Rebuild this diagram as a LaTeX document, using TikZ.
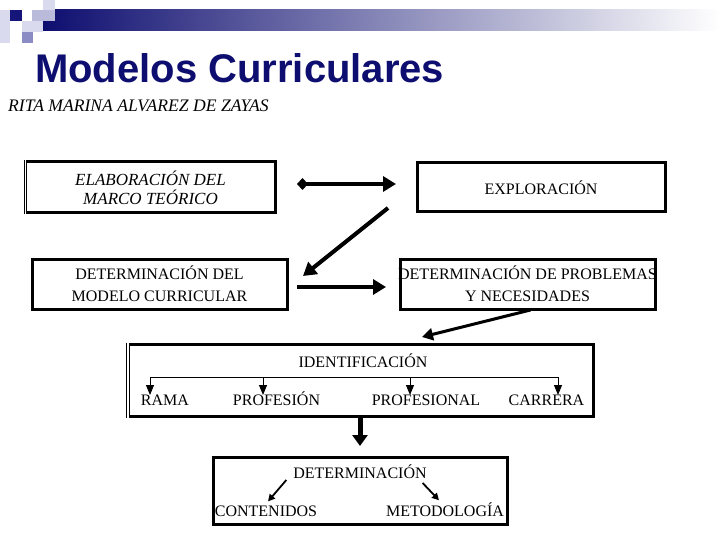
\documentclass[tikz,border=0pt]{standalone}
\usepackage{fontspec}
\setmainfont{Liberation Serif}
\newfontfamily\titlefont{Liberation Sans}
\usetikzlibrary{arrows.meta,calc}
\definecolor{navy}{RGB}{14,14,112}
\definecolor{sqdark}{RGB}{22,22,122}
\definecolor{sqlight}{RGB}{218,218,238}
\definecolor{sqmid}{RGB}{186,186,218}
\definecolor{sqmed}{RGB}{140,140,196}
\begin{document}
\begin{tikzpicture}[x=1pt,y=-1pt,
  frame/.style={draw,line width=3pt,inner sep=0pt,outer sep=0pt,align=center,
    font=\fontsize{16}{22}\selectfont},
  openframe/.style={inner sep=0pt,outer sep=0pt,align=center,
    font=\fontsize{16}{22}\selectfont},
  plain/.style={inner sep=0pt,outer sep=0pt,font=\fontsize{16}{20}\selectfont},
  bigarrow/.style={line width=4pt,-{Triangle[length=13pt,width=15pt]}},
  midarrow/.style={line width=3pt,-{Triangle[length=11pt,width=12pt]}},
  treearrow/.style={line width=1pt,-{Triangle[length=10pt,width=8pt]}},
  smallarrow/.style={line width=1.8pt,-{Triangle[length=7pt,width=7pt]}}
]
\useasboundingbox (0,0) rectangle (720,540);
\fill[white] (0,0) rectangle (720,540);

% header decoration
\shade[left color=navy,right color=white] (43,10) rectangle (720,31);
\fill[sqlight] (0,10) rectangle (10,43);
\fill[sqdark] (10,10) rectangle (22,21);
\fill[sqlight] (43,0) rectangle (55,10);
\fill[sqmid] (32,10) rectangle (55,21);
\fill[sqlight] (22,21) rectangle (43,32);
\fill[sqmed] (22,32) rectangle (33,43);

% title and author
\node[anchor=base west,inner sep=0pt,text=navy,font=\titlefont\bfseries\fontsize{40}{40}\selectfont]
  (title) at (35,83) {Modelos Curriculares};
\node[anchor=base west,inner sep=0pt,font=\itshape\fontsize{17.6}{18}\selectfont]
  (author) at (8,112) {RITA MARINA ALVAREZ DE ZAYAS};

% boxes
\node[openframe,minimum width=249pt,minimum height=51pt,
  font=\itshape\fontsize{17}{19}\selectfont]
  (b1) at (150.5,187.5) {ELABORACIÓN DEL\\MARCO TEÓRICO};
\draw[line width=3pt] (b1.north west) -- (b1.north east) -- (b1.south east) -- (b1.south west);
\draw[line width=1pt] ($(b1.north west)+(-2,-1.5)$) -- ($(b1.south west)+(-2,1.5)$);
\draw[line width=1pt] ($(b1.north west)+(0.5,0)$) -- ($(b1.south west)+(0.5,0)$);

\node[frame,minimum width=248pt,minimum height=49pt] (b2) at (541,187.5) {EXPLORACIÓN};

\node[frame,minimum width=255pt,minimum height=50pt] (b3) at (159.5,284)
  {DETERMINACIÓN DEL\\MODELO CURRICULAR};

\node[frame,minimum width=255pt,minimum height=50pt] (b4) at (527.5,284)
  {\makebox[0pt][c]{DETERMINACIÓN DE PROBLEMAS}\\\makebox[0pt][c]{Y NECESIDADES}};

\node[openframe,minimum width=464pt,minimum height=72pt] (b5) at (361,380) {};
\draw[line width=3pt] (b5.north west) -- (b5.north east) -- (b5.south east) -- (b5.south west);
\draw[line width=1pt] ($(b5.north west)+(-2.5,-1.5)$) -- ($(b5.south west)+(-2.5,1.5)$);
\draw[line width=1pt] ($(b5.north west)+(0.5,0)$) -- ($(b5.south west)+(0.5,0)$);

\node[frame,minimum width=294pt,minimum height=67pt] (b6) at (360,490.5) {};

% texts inside identification box
\node[plain] (ident) at (363,361) {IDENTIFICACIÓN};
\node[plain,anchor=base] (rama) at (165,405) {RAMA};
\node[plain,anchor=base] (prof) at (276.5,405) {PROFESIÓN};
\node[plain,anchor=base] (profl) at (426,405) {PROFESIONAL};
\node[plain,anchor=base] (carr) at (546.5,405) {CARRERA};

% texts inside determination box
\node[plain] (det) at (360,472) {DETERMINACIÓN};
\node[plain,anchor=base] (cont) at (266,516) {CONTENIDOS};
\node[plain,anchor=base] (meto) at (445,516) {METODOLOGÍA};

% top arrows
\draw[line width=4pt,{Diamond[length=11pt,width=12pt]}-{Triangle[length=13pt,width=15pt]}]
  ($(b1.east)+(22,-3.5)$) -- ($(b2.west)+(-21,-3.5)$);
\draw[bigarrow] ($(b2.south west)+(-29,-4)$) -- ($(b3.east)+(16,-8)$);
\draw[bigarrow] ($(b3.east)+(10,3)$) -- ($(b4.west)+(-14,3)$);
\draw[midarrow] ($(b4.south)+(3,1)$) -- ($(b5.north)+(61,-7)$);
\draw[line width=5pt,-{Triangle[length=11pt,width=15pt]}] (b5.south -| det) -- ($(b6.north)+(0,-11)$);

% tree
\coordinate (ta) at (150,377);
\coordinate (tb) at (263,377);
\coordinate (tc) at (410,377);
\coordinate (td) at (558,377);
\coordinate (ea) at (150,395);
\coordinate (eb) at (263,395);
\coordinate (ec) at (410,395);
\coordinate (ed) at (558,395);
\draw[line width=1pt] (ta) -- (td);
\draw[treearrow] (ta) -- (ea);
\draw[treearrow] (tb) -- (eb);
\draw[treearrow] (tc) -- (ec);
\draw[treearrow] (td) -- (ed);

% small arrows
\draw[smallarrow] ($(det.west)+(-7,8)$) -- ($(cont.north)+(2,-4)$);
\draw[smallarrow] ($(det.east)+(-4,11)$) -- ($(meto.north)+(-6,-2)$);
\end{tikzpicture}
\end{document}
